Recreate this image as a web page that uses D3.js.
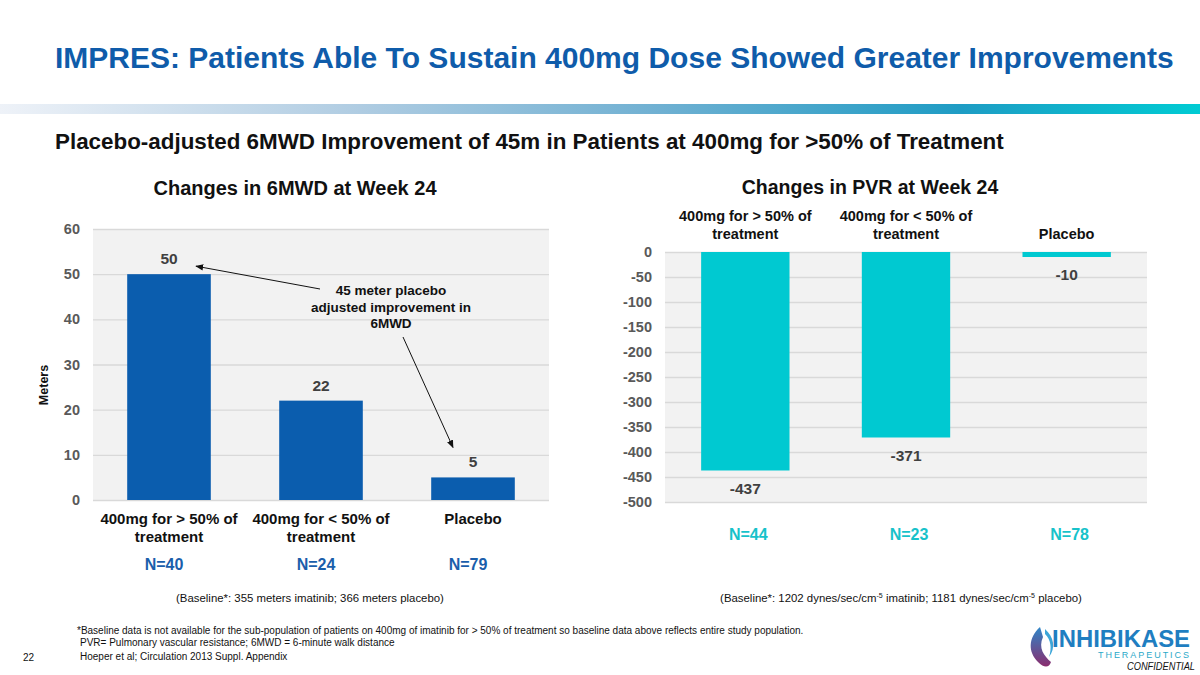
<!DOCTYPE html>
<html>
<head>
<meta charset="utf-8">
<script src="https://cdn.jsdelivr.net/npm/d3@7"></script>
<style>
  body { margin: 0; background: #fff; }
  svg { display: block; font-family: "Liberation Sans", Arial, sans-serif; }
</style>
</head>
<body>
<svg id="chart" width="1200" height="675"></svg>
<script>
// data
const categories = [
    ['400mg for > 50% of', 'treatment'],
    ['400mg for < 50% of', 'treatment'],
    ['Placebo']
];
const mwdValues = [50, 22, 5];
const mwdCounts = ['N=40', 'N=24', 'N=79'];
const mwdTicks = [0, 10, 20, 30, 40, 50, 60];
const pvrValues = [-437, -371, -10];
const pvrCounts = ['N=44', 'N=23', 'N=78'];
const pvrTicks = [0, -50, -100, -150, -200, -250, -300, -350, -400, -450, -500];

const svg = d3.select('#chart');
const keys = categories.map(c => c.join(' '));

// header
svg.append('text')
    .attr('x', 55).attr('y', 68)
    .attr('font-size', 30).attr('font-weight', 'bold')
    .attr('fill', '#0F5CAA')
    .text('IMPRES: Patients Able To Sustain 400mg Dose Showed Greater Improvements');

const defs = svg.append('defs');
const grad = defs.append('linearGradient').attr('id', 'band');
[['0%', '#EEF2F8'], ['30%', '#AFCCE2'], ['55%', '#6FB0D2'], ['80%', '#1E9CC4'], ['100%', '#00CBD3']]
    .forEach(([o, c]) => grad.append('stop').attr('offset', o).attr('stop-color', c));
svg.append('rect').attr('x', 0).attr('y', 104).attr('width', 1200).attr('height', 10).attr('fill', 'url(#band)');

svg.append('text')
    .attr('x', 55).attr('y', 149)
    .attr('font-size', 22.4).attr('font-weight', 'bold')
    .attr('fill', '#111')
    .text('Placebo-adjusted 6MWD Improvement of 45m in Patients at 400mg for >50% of Treatment');

// ---------- left chart: 6MWD ----------
const xL = d3.scaleBand().domain(keys).range([93, 549]).paddingInner(0.45).paddingOuter(0.225);
const yL = d3.scaleLinear().domain([0, 60]).range([500, 229]);

svg.append('text')
    .attr('x', 295).attr('y', 195)
    .attr('text-anchor', 'middle')
    .attr('font-size', 20).attr('font-weight', 'bold').attr('fill', '#111')
    .text('Changes in 6MWD at Week 24');

svg.append('rect')
    .attr('x', 93).attr('y', 229).attr('width', 456).attr('height', 271)
    .attr('fill', '#F2F2F2');

const gridL = svg.append('g')
    .attr('transform', 'translate(93,0)')
    .call(d3.axisLeft(yL).tickValues(mwdTicks).tickSize(-456).tickPadding(13));
gridL.select('.domain').remove();
gridL.selectAll('.tick line').attr('stroke', '#D9D9D9').attr('stroke-width', 1.3);
gridL.selectAll('.tick text')
    .attr('font-size', 14.5).attr('font-weight', 'bold').attr('fill', '#595959')
    .attr('font-family', '"Liberation Sans", Arial, sans-serif');

svg.append('g').selectAll('rect')
    .data(mwdValues)
    .join('rect')
    .attr('x', (d, i) => xL(keys[i]))
    .attr('y', d => yL(d))
    .attr('width', xL.bandwidth())
    .attr('height', d => yL(0) - yL(d))
    .attr('fill', '#0B5DAE');

svg.append('g').selectAll('text')
    .data(mwdValues)
    .join('text')
    .attr('x', (d, i) => xL(keys[i]) + xL.bandwidth() / 2)
    .attr('y', d => yL(d) - 10)
    .attr('text-anchor', 'middle')
    .attr('font-size', 15.5).attr('font-weight', 'bold').attr('fill', '#404040')
    .text(d => d);

categories.forEach((lines, i) => {
    lines.forEach((ln, j) => {
        svg.append('text')
            .attr('x', xL(keys[i]) + xL.bandwidth() / 2)
            .attr('y', 524 + j * 18)
            .attr('text-anchor', 'middle')
            .attr('font-size', 15).attr('font-weight', 'bold').attr('fill', '#111')
            .text(ln);
    });
});

svg.append('g').selectAll('text')
    .data(mwdCounts)
    .join('text')
    .attr('x', (d, i) => xL(keys[i]) + xL.bandwidth() / 2 - 5)
    .attr('y', 570)
    .attr('text-anchor', 'middle')
    .attr('font-size', 16).attr('font-weight', 'bold').attr('fill', '#1A5EAB')
    .text(d => d);

svg.append('text')
    .attr('transform', 'translate(48,385) rotate(-90)')
    .attr('text-anchor', 'middle')
    .attr('font-size', 12.5).attr('font-weight', 'bold').attr('fill', '#111')
    .text('Meters');

// annotation with arrows
defs.append('marker')
    .attr('id', 'head').attr('viewBox', '0 0 10 10')
    .attr('refX', 9).attr('refY', 5)
    .attr('markerWidth', 8).attr('markerHeight', 8)
    .attr('orient', 'auto')
    .append('path').attr('d', 'M0,1 L10,5 L0,9 Z').attr('fill', '#111');

['45 meter placebo', 'adjusted improvement in', '6MWD'].forEach((t, j) => {
    svg.append('text')
        .attr('x', 391).attr('y', 295 + j * 16.5)
        .attr('text-anchor', 'middle')
        .attr('font-size', 13.5).attr('font-weight', 'bold').attr('fill', '#111')
        .text(t);
});
svg.append('line')
    .attr('x1', 320).attr('y1', 289)
    .attr('x2', xL(keys[0]) + xL.bandwidth() / 2 + 27).attr('y2', yL(mwdValues[0]) - 8)
    .attr('stroke', '#111').attr('stroke-width', 1).attr('marker-end', 'url(#head)');
svg.append('line')
    .attr('x1', 403).attr('y1', 337)
    .attr('x2', xL(keys[2]) + xL.bandwidth() / 2 - 20).attr('y2', yL(mwdValues[2]) - 30)
    .attr('stroke', '#111').attr('stroke-width', 1).attr('marker-end', 'url(#head)');

// ---------- right chart: PVR ----------
const xR = d3.scaleBand().domain(keys).range([665, 1147]).paddingInner(0.45).paddingOuter(0.225);
const yR = d3.scaleLinear().domain([-500, 0]).range([502, 252]);

svg.append('text')
    .attr('x', 870).attr('y', 194)
    .attr('text-anchor', 'middle')
    .attr('font-size', 19.5).attr('font-weight', 'bold').attr('fill', '#111')
    .text('Changes in PVR at Week 24');

svg.append('rect')
    .attr('x', 665).attr('y', 252).attr('width', 482).attr('height', 250)
    .attr('fill', '#F2F2F2');

const gridR = svg.append('g')
    .attr('transform', 'translate(665,0)')
    .call(d3.axisLeft(yR).tickValues(pvrTicks).tickSize(-482).tickPadding(13));
gridR.select('.domain').remove();
gridR.selectAll('.tick line').attr('stroke', '#D9D9D9').attr('stroke-width', 1.3);
gridR.selectAll('.tick text')
    .attr('font-size', 14.5).attr('font-weight', 'bold').attr('fill', '#595959')
    .attr('font-family', '"Liberation Sans", Arial, sans-serif')
    .text(d => String(d));

svg.append('g').selectAll('rect')
    .data(pvrValues)
    .join('rect')
    .attr('x', (d, i) => xR(keys[i]))
    .attr('y', yR(0))
    .attr('width', xR.bandwidth())
    .attr('height', d => yR(d) - yR(0))
    .attr('fill', '#00C9D1');

svg.append('g').selectAll('text')
    .data(pvrValues)
    .join('text')
    .attr('x', (d, i) => xR(keys[i]) + xR.bandwidth() / 2)
    .attr('y', d => yR(d) + 23)
    .attr('text-anchor', 'middle')
    .attr('font-size', 15.5).attr('font-weight', 'bold').attr('fill', '#404040')
    .text(d => String(d));

categories.forEach((lines, i) => {
    lines.forEach((ln, j) => {
        svg.append('text')
            .attr('x', xR(keys[i]) + xR.bandwidth() / 2)
            .attr('y', 239 - (lines.length - 1 - j) * 18)
            .attr('text-anchor', 'middle')
            .attr('font-size', 14.5).attr('font-weight', 'bold').attr('fill', '#111')
            .text(ln);
    });
});

svg.append('g').selectAll('text')
    .data(pvrCounts)
    .join('text')
    .attr('x', (d, i) => xR(keys[i]) + xR.bandwidth() / 2 + 3)
    .attr('y', 540)
    .attr('text-anchor', 'middle')
    .attr('font-size', 16).attr('font-weight', 'bold').attr('fill', '#17C2CA')
    .text(d => d);

// ---------- footnotes ----------
const small = '"Liberation Sans Narrow", "Liberation Sans", Arial, sans-serif';
svg.append('text')
    .attr('x', 310).attr('y', 602).attr('text-anchor', 'middle')
    .attr('font-size', 11.4).attr('font-family', small).attr('fill', '#111')
    .text('(Baseline*: 355 meters imatinib; 366 meters placebo)');

const pvrBase = svg.append('text')
    .attr('x', 901).attr('y', 602).attr('text-anchor', 'middle')
    .attr('font-size', 11.4).attr('font-family', small).attr('fill', '#111');
pvrBase.append('tspan').text('(Baseline*: 1202 dynes/sec/cm');
pvrBase.append('tspan').attr('dy', -4).attr('font-size', 7).text('-5');
pvrBase.append('tspan').attr('dy', 4).text(' imatinib; 1181 dynes/sec/cm');
pvrBase.append('tspan').attr('dy', -4).attr('font-size', 7).text('-5');
pvrBase.append('tspan').attr('dy', 4).text(' placebo)');

svg.append('text')
    .attr('x', 77).attr('y', 634)
    .attr('font-size', 10).attr('font-family', small).attr('fill', '#111')
    .text('*Baseline data is not available for the sub-population of patients on 400mg of imatinib for > 50% of treatment so baseline data above reflects entire study population.');
svg.append('text')
    .attr('x', 80).attr('y', 646)
    .attr('font-size', 10).attr('font-family', small).attr('fill', '#111')
    .text('PVR= Pulmonary vascular resistance; 6MWD = 6-minute walk distance');
svg.append('text')
    .attr('x', 23).attr('y', 661)
    .attr('font-size', 10).attr('font-family', small).attr('fill', '#111')
    .text('22');
svg.append('text')
    .attr('x', 80).attr('y', 660)
    .attr('font-size', 10).attr('font-family', small).attr('fill', '#111')
    .text('Hoeper et al; Circulation 2013 Suppl. Appendix');

// ---------- logo ----------
const lg = defs.append('linearGradient').attr('id', 'logo').attr('x1', 0).attr('y1', 0).attr('x2', 0).attr('y2', 1);
lg.append('stop').attr('offset', '0%').attr('stop-color', '#2E86C8');
lg.append('stop').attr('offset', '100%').attr('stop-color', '#8A2D6E');
svg.append('path')
    .attr('d', 'M1040,627 C1028,638 1028,652 1038,662 C1044,668 1049,668 1051,662 C1044,656 1038,648 1043,637 Z')
    .attr('fill', 'url(#logo)');
svg.append('path')
    .attr('d', 'M1045,629 C1054,637 1056,648 1049,657 C1052,648 1051,640 1045,634 Z')
    .attr('fill', '#3DA6D8');
svg.append('text')
    .attr('x', 1052).attr('y', 647)
    .attr('font-size', 23).attr('font-weight', 'bold').attr('fill', '#1F7EC1')
    .attr('textLength', 138).attr('lengthAdjust', 'spacingAndGlyphs')
    .text('INHIBIKASE');
svg.append('text')
    .attr('x', 1098).attr('y', 658)
    .attr('font-size', 9).attr('fill', '#2AA9C9')
    .attr('textLength', 91).attr('lengthAdjust', 'spacing')
    .text('THERAPEUTICS');
svg.append('text')
    .attr('x', 1127).attr('y', 670)
    .attr('font-size', 10).attr('font-style', 'italic').attr('fill', '#111')
    .attr('textLength', 68).attr('lengthAdjust', 'spacingAndGlyphs')
    .text('CONFIDENTIAL');
</script>
</body>
</html>
